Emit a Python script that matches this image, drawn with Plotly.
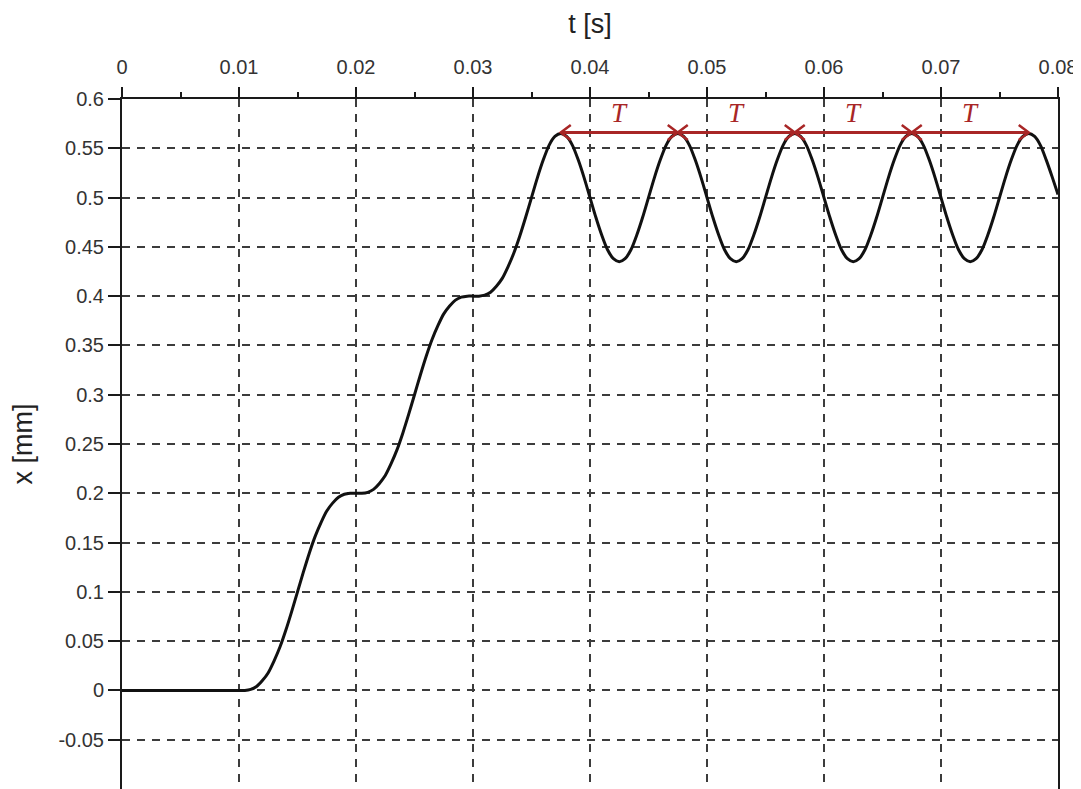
import plotly.graph_objects as go

# ---------------- data ----------------
T_S = [
    0.0000, 0.0005, 0.0010, 0.0015, 0.0020, 0.0025, 0.0030, 0.0035, 0.0040, 0.0045,
    0.0050, 0.0055, 0.0060, 0.0065, 0.0070, 0.0075, 0.0080, 0.0085, 0.0090, 0.0095,
    0.0100, 0.0105, 0.0110, 0.0115, 0.0120, 0.0125, 0.0130, 0.0135, 0.0140, 0.0145,
    0.0150, 0.0155, 0.0160, 0.0165, 0.0170, 0.0175, 0.0180, 0.0185, 0.0190, 0.0195,
    0.0200, 0.0205, 0.0210, 0.0215, 0.0220, 0.0225, 0.0230, 0.0235, 0.0240, 0.0245,
    0.0250, 0.0255, 0.0260, 0.0265, 0.0270, 0.0275, 0.0280, 0.0285, 0.0290, 0.0295,
    0.0300, 0.0305, 0.0310, 0.0315, 0.0320, 0.0325, 0.0330, 0.0335, 0.0340, 0.0345,
    0.0350, 0.0355, 0.0360, 0.0365, 0.0370, 0.0375, 0.0380, 0.0385, 0.0390, 0.0395,
    0.0400, 0.0405, 0.0410, 0.0415, 0.0420, 0.0425, 0.0430, 0.0435, 0.0440, 0.0445,
    0.0450, 0.0455, 0.0460, 0.0465, 0.0470, 0.0475, 0.0480, 0.0485, 0.0490, 0.0495,
    0.0500, 0.0505, 0.0510, 0.0515, 0.0520, 0.0525, 0.0530, 0.0535, 0.0540, 0.0545,
    0.0550, 0.0555, 0.0560, 0.0565, 0.0570, 0.0575, 0.0580, 0.0585, 0.0590, 0.0595,
    0.0600, 0.0605, 0.0610, 0.0615, 0.0620, 0.0625, 0.0630, 0.0635, 0.0640, 0.0645,
    0.0650, 0.0655, 0.0660, 0.0665, 0.0670, 0.0675, 0.0680, 0.0685, 0.0690, 0.0695,
    0.0700, 0.0705, 0.0710, 0.0715, 0.0720, 0.0725, 0.0730, 0.0735, 0.0740, 0.0745,
    0.0750, 0.0755, 0.0760, 0.0765, 0.0770, 0.0775, 0.0780, 0.0785, 0.0790, 0.0795,
    0.0800,
]
X_MM = [
    0.000, 0.000, 0.000, 0.000, 0.000, 0.000, 0.000, 0.000, 0.000, 0.000,
    0.000, 0.000, 0.000, 0.000, 0.000, 0.000, 0.000, 0.000, 0.000, 0.000,
    0.000, 0.000, 0.001, 0.004, 0.010, 0.018, 0.030, 0.044, 0.061, 0.080,
    0.100, 0.120, 0.139, 0.156, 0.170, 0.182, 0.190, 0.196, 0.199, 0.200,
    0.200, 0.200, 0.201, 0.204, 0.210, 0.218, 0.230, 0.244, 0.261, 0.280,
    0.300, 0.320, 0.339, 0.356, 0.370, 0.382, 0.390, 0.396, 0.399, 0.400,
    0.400, 0.400, 0.401, 0.404, 0.410, 0.418, 0.430, 0.444, 0.461, 0.480,
    0.500, 0.520, 0.538, 0.553, 0.562, 0.565, 0.562, 0.553, 0.538, 0.520,
    0.500, 0.480, 0.462, 0.447, 0.438, 0.435, 0.438, 0.447, 0.462, 0.480,
    0.500, 0.520, 0.538, 0.553, 0.562, 0.565, 0.562, 0.553, 0.538, 0.520,
    0.500, 0.480, 0.462, 0.447, 0.438, 0.435, 0.438, 0.447, 0.462, 0.480,
    0.500, 0.520, 0.538, 0.553, 0.562, 0.565, 0.562, 0.553, 0.538, 0.520,
    0.500, 0.480, 0.462, 0.447, 0.438, 0.435, 0.438, 0.447, 0.462, 0.480,
    0.500, 0.520, 0.538, 0.553, 0.562, 0.565, 0.562, 0.553, 0.538, 0.520,
    0.500, 0.480, 0.462, 0.447, 0.438, 0.435, 0.438, 0.447, 0.462, 0.480,
    0.500, 0.520, 0.538, 0.553, 0.562, 0.565, 0.562, 0.553, 0.538, 0.521,
    0.503,
]

X_TICKS = [0, 0.01, 0.02, 0.03, 0.04, 0.05, 0.06, 0.07, 0.08]
X_TICK_TEXT = ["0", "0.01", "0.02", "0.03", "0.04", "0.05", "0.06", "0.07", "0.08"]
Y_TICKS = [-0.05, 0, 0.05, 0.1, 0.15, 0.2, 0.25, 0.3, 0.35, 0.4, 0.45, 0.5, 0.55, 0.6]
Y_TICK_TEXT = ["-0.05", "0", "0.05", "0.1", "0.15", "0.2", "0.25", "0.3", "0.35",
               "0.4", "0.45", "0.5", "0.55", "0.6"]

PERIOD_MARKS = [0.0375, 0.0475, 0.0575, 0.0675, 0.0775]   # peaks joined by the T arrows
PERIOD_Y = 0.566
PERIOD_LABEL = "T"
PERIOD_LABEL_Y = 0.586

X_RANGE = [0, 0.08]
Y_RANGE = [-0.1, 0.6]

# ---------------- layout geometry / styles ----------------
# the page body has an 8px margin, so the figure is sized to end at the window edge
W, H = 1073, 781
M_L, M_R, M_T, M_B = 114, 23, 91, 0
RED = "#a82626"
GRID = "#3c3c3c"
AXIS = "#1a1a1a"

plot_w = W - M_L - M_R
plot_h = H - M_T - M_B
t_per_px = (X_RANGE[1] - X_RANGE[0]) / plot_w
y_per_px = (Y_RANGE[1] - Y_RANGE[0]) / plot_h
head_dx = 10 * t_per_px
head_dy = 7.5 * y_per_px

fig = go.Figure()

fig.add_trace(go.Scatter(
    x=T_S, y=X_MM, mode="lines",
    line=dict(color="#111111", width=3, shape="spline", smoothing=0.8),
    showlegend=False, hoverinfo="x+y",
))

# period arrows
fig.add_trace(go.Scatter(
    x=[PERIOD_MARKS[0], PERIOD_MARKS[-1]], y=[PERIOD_Y, PERIOD_Y], mode="lines",
    line=dict(color=RED, width=3), showlegend=False, hoverinfo="skip",
))
hx, hy = [], []
for a, b in zip(PERIOD_MARKS[:-1], PERIOD_MARKS[1:]):
    hx += [a + head_dx, a, a + head_dx, None, b - head_dx, b, b - head_dx, None]
    hy += [PERIOD_Y + head_dy, PERIOD_Y, PERIOD_Y - head_dy, None,
           PERIOD_Y + head_dy, PERIOD_Y, PERIOD_Y - head_dy, None]
fig.add_trace(go.Scatter(
    x=hx, y=hy, mode="lines", line=dict(color=RED, width=2.5),
    showlegend=False, hoverinfo="skip",
))
for a, b in zip(PERIOD_MARKS[:-1], PERIOD_MARKS[1:]):
    fig.add_annotation(
        x=(a + b) / 2, y=PERIOD_LABEL_Y, text="<i>%s</i>" % PERIOD_LABEL,
        showarrow=False, font=dict(family="Liberation Serif, serif", size=27, color=RED),
        xanchor="center", yanchor="middle",
    )

fig.update_layout(
    width=W, height=H,
    margin=dict(l=M_L, r=M_R, t=M_T, b=M_B, autoexpand=False),
    paper_bgcolor="white", plot_bgcolor="white",
    font=dict(family="Liberation Sans, Arial, sans-serif", color="#333333"),
    showlegend=False,
)
fig.update_xaxes(
    side="top", range=X_RANGE, tickvals=X_TICKS, ticktext=X_TICK_TEXT,
    showline=True, linecolor=AXIS, linewidth=2, mirror=False,
    ticks="outside", ticklen=10, tickwidth=2, tickcolor=AXIS,
    tickfont=dict(size=20, color="#333333"), ticklabelstandoff=5,
    minor=dict(dtick=0.005, tick0=0, ticks="outside", ticklen=5, tickwidth=2,
               tickcolor=AXIS, showgrid=False),
    showgrid=True, gridcolor=GRID, gridwidth=1.6, griddash="8px,7px",
    zeroline=False, automargin=False,
    title=dict(text="t [s]", font=dict(size=27, color="#222222"), standoff=15),
)
fig.update_yaxes(
    range=Y_RANGE, tickvals=Y_TICKS, ticktext=Y_TICK_TEXT,
    showline=True, linecolor=AXIS, linewidth=2, mirror=True,
    ticks="outside", ticklen=12, tickwidth=2, tickcolor=AXIS,
    tickfont=dict(size=20, color="#333333"),
    showgrid=True, gridcolor=GRID, gridwidth=1.6, griddash="8px,7px",
    zeroline=False, automargin=False,
    title=dict(text="x [mm]", font=dict(size=27, color="#222222"), standoff=18),
)

fig.write_html("out.html")
